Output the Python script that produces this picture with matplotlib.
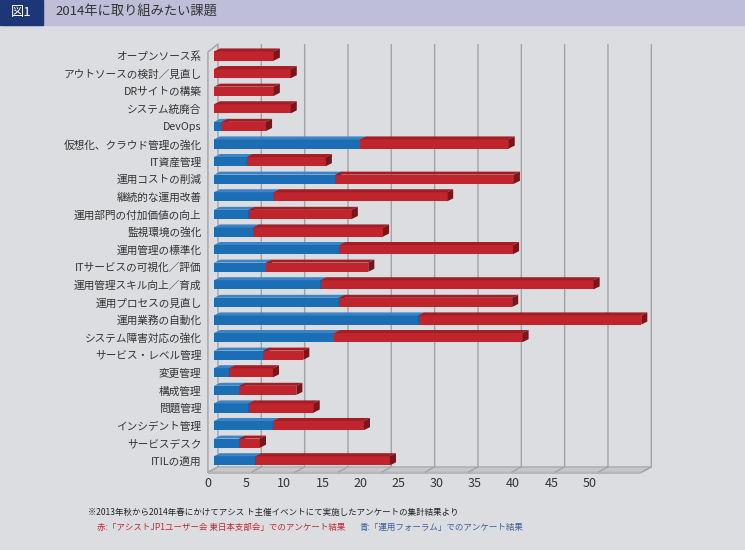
import matplotlib
matplotlib.use("Agg")
import matplotlib.pyplot as plt
from matplotlib.patches import Polygon, Rectangle

plt.rcParams['font.family'] = ['Noto Sans CJK JP', 'DejaVu Sans']

# data
categories = [
    "オープンソース系", "アウトソースの検討／見直し", "DRサイトの構築", "システム統廃合",
    "DevOps", "仮想化、クラウド管理の強化", "IT資産管理", "運用コストの削減",
    "継続的な運用改善", "運用部門の付加価値の向上", "監視環境の強化", "運用管理の標準化",
    "ITサービスの可視化／評価", "運用管理スキル向上／育成", "運用プロセスの見直し",
    "運用業務の自動化", "システム障害対応の強化", "サービス・レベル管理", "変更管理",
    "構成管理", "問題管理", "インシデント管理", "サービスデスク", "ITILの適用",
]
blue_vals = [0, 0, 0, 0, 0.9, 16.9, 3.8, 14.0, 6.9, 4.0, 4.5, 14.5,
             6.0, 12.3, 14.4, 23.6, 13.9, 5.7, 1.8, 2.9, 4.0, 6.8, 2.9, 4.8]
red_vals = [6.9, 8.85, 6.9, 8.85, 5.1, 17.1, 9.1, 20.6, 20.0, 11.9, 15.0, 20.0,
            11.8, 31.5, 20.0, 25.7, 21.7, 4.6, 5.0, 6.6, 7.5, 10.5, 2.4, 15.5]
tick_labels = [0, 5, 10, 15, 20, 25, 30, 35, 40, 45, 50]

title_num = "図1"
title = "2014年に取り組みたい課題"
note1 = "※2013年秋から2014年春にかけてアシス ト主催イベントにて実施したアンケートの集計結果より"
note_red = "赤:「アシストJP1ユーザー会 東日本支部会」でのアンケート結果"
note_blue = "青:「運用フォーラム」でのアンケート結果"

W, H = 745, 550
BG = "#dcdde0"
BLUE, BLUE_TOP, BLUE_CAP = "#1b6db4", "#3b85c6", "#0f467c"
RED, RED_TOP, RED_CAP = "#c0242d", "#a31d24", "#7a1519"
GRID = "#a3a3a5"

fig = plt.figure(figsize=(W / 100, H / 100), dpi=100, facecolor=BG)

# title band
fig.patches.append(Rectangle((0, 1 - 25 / H), 1, 25 / H, transform=fig.transFigure,
                             color="#bebed9", zorder=0))
fig.patches.append(Rectangle((0, 1 - 25 / H), 43 / W, 25 / H, transform=fig.transFigure,
                             color="#1c3677", zorder=1))
fig.text(21 / W, 1 - 12.5 / H, title_num, color="white", fontsize=9.5,
         ha="center", va="center")
fig.text(55 / W, 1 - 12.5 / H, title, color="#333333", fontsize=9.5,
         ha="left", va="center")

# x: 0 at 214px, 8.667 px per unit; view from -0.8 to 51
px_unit = 442 / 51
x_lo, x_hi = -0.8, 51
ax_left = 214 + x_lo * px_unit
ax = fig.add_axes([ax_left / W, 1 - 475 / H, (x_hi - x_lo) * px_unit / W, 435 / H])
ax.set_facecolor("none")
for s in ax.spines.values():
    s.set_visible(False)

# pseudo 3d depth offsets (in data units)
back_dx, front_dx = 0.46, -0.70
top_y, floor_back, floor_front, wall_top = -0.68, 23.35, 23.66, -0.23

# floor
ax.add_patch(Polygon([(front_dx, floor_front), (50 + front_dx, floor_front),
                      (50 + back_dx, floor_back), (back_dx, floor_back)],
                     closed=True, facecolor="#c6c7ca", edgecolor=GRID, lw=0.8, zorder=1))
ax.add_patch(Polygon([(front_dx, floor_front), (50 + front_dx, floor_front),
                      (50 + front_dx, floor_front + 0.1), (front_dx, floor_front + 0.1)],
                     closed=True, facecolor="#b6b7ba", edgecolor="none", zorder=1))
# grid lines on back wall + floor
for v in tick_labels:
    ax.plot([v + back_dx, v + back_dx, v + front_dx], [top_y, floor_back, floor_front],
            color=GRID, lw=1, zorder=1, solid_capstyle="butt")
# left wall
ax.plot([front_dx, front_dx, back_dx], [floor_front, wall_top, top_y],
        color=GRID, lw=1, zorder=1, clip_on=False)

# bars
bh = 0.52
d_x, d_y = 0.7, 0.17


def bar3d(y, left, width, face, top, cap, z):
    if width <= 0:
        return
    ax.barh(y, width, left=left, height=bh, color=face, zorder=z)
    t = y - bh / 2
    b = y + bh / 2
    r = left + width
    ax.add_patch(Polygon([(left, t), (r, t), (r + d_x, t - d_y), (left + d_x, t - d_y)],
                         closed=True, facecolor=top, edgecolor="none", zorder=z))
    ax.add_patch(Polygon([(r, t), (r, b), (r + d_x, b - d_y), (r + d_x, t - d_y)],
                         closed=True, facecolor=cap, edgecolor="none", zorder=z))


for i in range(len(categories)):
    bar3d(i, 0, blue_vals[i], BLUE, BLUE_TOP, BLUE_CAP, 3)
    bar3d(i, blue_vals[i], red_vals[i], RED, RED_TOP, RED_CAP, 4)

ax.set_yticks(range(len(categories)))
ax.set_yticklabels(categories, fontsize=7.7, color="#333333")
ax.tick_params(axis="y", length=0, pad=4)

# x labels sit on the front of the floor with their own spacing
ax.set_xticks([(208 + 7.63 * u - 214) / px_unit for u in tick_labels])
ax.set_xticklabels([str(u) for u in tick_labels], fontsize=9, color="#333333")
ax.tick_params(axis="x", length=0, pad=1.5)

ax.set_xlim(x_lo, x_hi)
ax.set_ylim(23.81, -0.91)

# notes
fig.text(88 / W, 1 - 512 / H, note1, fontsize=6.1, color="#222222", ha="left", va="center")
fig.text(97 / W, 1 - 527 / H, note_red, fontsize=6.1, color="#c0282d", ha="left", va="center")
fig.text(360 / W, 1 - 527 / H, note_blue, fontsize=6.1, color="#3a5f9f", ha="left", va="center")

fig.savefig("out.png", dpi=100, facecolor=BG)
